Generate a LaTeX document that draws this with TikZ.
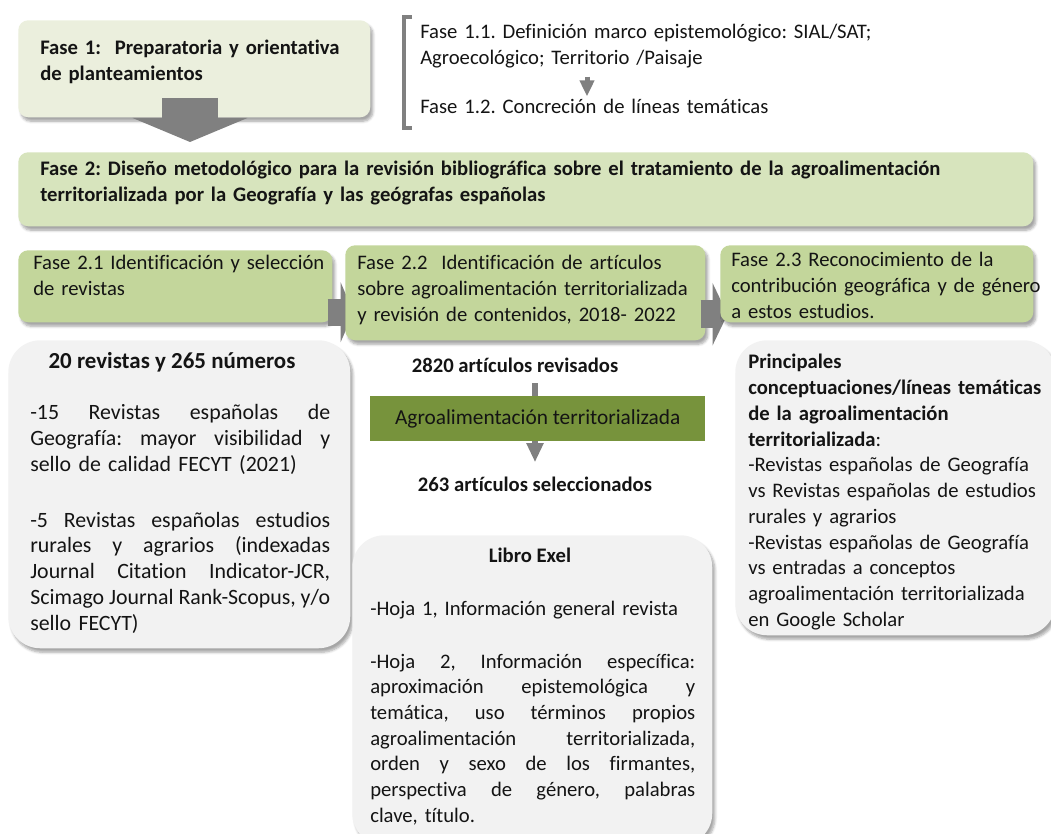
\documentclass[tikz,border=0pt]{standalone}
\usepackage{fontspec}
\setmainfont{Carlito}[Ligatures=NoCommon]
\usetikzlibrary{shadows.blur,arrows.meta,calc}
\newdimen\pxu \pxu=0.75pt
\definecolor{fOne}{RGB}{235,239,221}
\definecolor{fTwo}{RGB}{215,228,189}
\definecolor{fSub}{RGB}{195,214,155}
\definecolor{agro}{RGB}{119,147,60}
\definecolor{greybox}{RGB}{242,242,242}
\definecolor{arrowgray}{RGB}{128,128,128}
\definecolor{ink}{RGB}{20,20,20}
\newcommand{\fs}{\fontsize{15.5pt}{19.3pt}\selectfont\frenchspacing}
\newcommand{\fl}{\fontsize{16.4pt}{19.3pt}\selectfont\frenchspacing}
\newcommand{\jl}[1]{{\spaceskip=0pt\xspaceskip=0pt\makebox[\hsize][s]{#1}}}
\begin{document}
\begin{tikzpicture}[x=0.75pt,y=-0.75pt,
  box/.style={anchor=north west, inner sep=0pt, rounded corners=10\pxu,
    blur shadow={shadow xshift=2pt, shadow yshift=-3pt, shadow opacity=35, shadow blur steps=6}},
  bigbox/.style={box, rounded corners=32\pxu, fill=greybox},
  txt/.style={anchor=base west, inner sep=0pt, align=left, font=\fs, text=ink},
  ctxt/.style={anchor=base, inner sep=0pt, align=center, font=\fs, text=ink},
  blockarrow/.style={draw=arrowgray, line width=#1},
]
\useasboundingbox (0,0) rectangle (1051,834);

% Fase 1
\node[box, fill=fOne, minimum width=352\pxu, minimum height=97\pxu] (f1) at (18,20) {};
\node[txt, text width=330\pxu] (f1t) at (40,55) {\textbf{Fase 1:\ \ Preparatoria y orientativa}\\\textbf{de planteamientos}};

% big arrow Fase 1 -> Fase 2
\coordinate (ba1) at (190,98);
\coordinate (ba2) at (190,142);
\draw[blockarrow=42pt, -{Triangle[width=85.5pt,length=18pt]}] (ba1) -- (ba2);

% bracket and sub-phases
\draw[arrowgray, line width=3pt] (412,17) -- (404,17) -- (404,128) -- (412,128);
\node[txt, text width=600\pxu] (f11) at (420,39) {Fase 1.1. Definición marco epistemológico: SIAL/SAT;\\Agroecológico; Territorio /Paisaje};
\node[txt, text width=500\pxu] (f12) at (420,114) {Fase 1.2. Concreción de líneas temáticas};
\draw[blockarrow=3.75pt, -{Triangle[width=10.5pt,length=12pt]}] ($(f11.south west)+(167,8)$) -- ($(f12.north west)+(167,-3)$);

% Fase 2
\node[box, fill=fTwo, minimum width=1015\pxu, minimum height=74\pxu] (f2) at (18,152) {};
\node[txt, text width=1000\pxu, font=\fs\bfseries] (f2t) at (40,176) {Fase 2: Diseño metodológico para la revisión bibliográfica sobre el tratamiento de la agroalimentación\\territorializada por la Geografía y las geógrafas españolas};

% Fase 2.1
\node[box, fill=fSub, minimum width=314\pxu, minimum height=72\pxu] (f21) at (18,250) {};
\node[txt, text width=300\pxu] (f21t) at (33,270) {Fase 2.1 Identificación y selección\\de revistas};
\draw[blockarrow=20.25pt, -{Triangle[width=45pt,length=9.75pt]}] ($(f21.east)+(-5,26)$) -- ($(f21.east)+(21,26)$) coordinate (a12);

% Fase 2.2
\node[box, fill=fSub, minimum width=360\pxu, minimum height=95\pxu] (f22) at (345,245) {};
\node[txt, text width=350\pxu] (f22t) at (357,270) {Fase 2.2\ \ Identificación de artículos\\sobre agroalimentación territorializada\\y revisión de contenidos, 2018- 2022};
\draw[blockarrow=21pt, -{Triangle[width=46.5pt,length=11.25pt]}] ($(f22.east)+(-5,21.5)$) -- ($(f22.east)+(22,21.5)$);

% Fase 2.3
\node[box, fill=fSub, minimum width=313\pxu, minimum height=77\pxu] (f23) at (720,245) {};
\node[txt, text width=310\pxu] (f23t) at (731,267) {Fase 2.3 Reconocimiento de la\\contribución geográfica y de género\\a estos estudios.};

% left grey box
\node[bigbox, minimum width=342\pxu, minimum height=308\pxu] (b1) at (8,340) {};
\node[ctxt, font=\fontsize{17.2pt}{20pt}\selectfont] (b1h) at (172,369) {\textbf{20 revistas y 265 números}};
\node[txt, text width=300\pxu, font=\fl] (b1t) at (30,420) {\jl{-15 Revistas españolas de}\\\jl{Geografía: mayor visibilidad y}\\sello de calidad FECYT (2021)\\[30\pxu]\jl{-5 Revistas españolas estudios}\\\jl{rurales y agrarios (indexadas}\\\jl{Journal Citation Indicator-JCR,}\\\jl{Scimago Journal Rank-Scopus, y/o}\\sello FECYT)};

% middle
\node[ctxt] (r2820) at (515,373) {\textbf{2820 artículos revisados}};
\node[ctxt] (r263) at (535,492) {\textbf{263 artículos seleccionados}};
\draw[blockarrow=4.5pt, -{Triangle[width=12pt,length=14.25pt]}] ($(r2820.south)+(20,10)$) -- ($(r263.north)+(0,-15)$);
\node[anchor=north west, fill=agro, minimum width=335\pxu, minimum height=45\pxu, inner sep=0pt, font=\fontsize{16pt}{19pt}\selectfont, text=ink] (ag) at (370,396) {Agroalimentación territorializada};

% Libro Exel box
\node[bigbox, minimum width=360\pxu, minimum height=310\pxu] (b2) at (352,535) {};
\node[ctxt] (b2h) at (530,563) {\textbf{Libro Exel}};
\node[txt, text width=325\pxu] (b2a) at (370,615) {-Hoja 1, Información general revista};
\node[txt, text width=325\pxu] (b2b) at (370,668) {\jl{-Hoja 2, Información específica:}\\\jl{aproximación epistemológica y}\\\jl{temática, uso términos propios}\\\jl{agroalimentación territorializada,}\\\jl{orden y sexo de los firmantes,}\\\jl{perspectiva de género, palabras}\\clave, título.};

% right grey box
\node[bigbox, minimum width=320\pxu, minimum height=295\pxu] (b3) at (735,340) {};
\node[txt, text width=310\pxu] (b3t) at (748,369) {\textbf{Principales}\\\textbf{conceptuaciones/líneas temáticas}\\\textbf{de la agroalimentación}\\\textbf{territorializada}:\\-Revistas españolas de Geografía\\vs Revistas españolas de estudios\\rurales y agrarios\\-Revistas españolas de Geografía\\vs entradas a conceptos\\agroalimentación territorializada\\en Google Scholar};
\end{tikzpicture}
\end{document}
